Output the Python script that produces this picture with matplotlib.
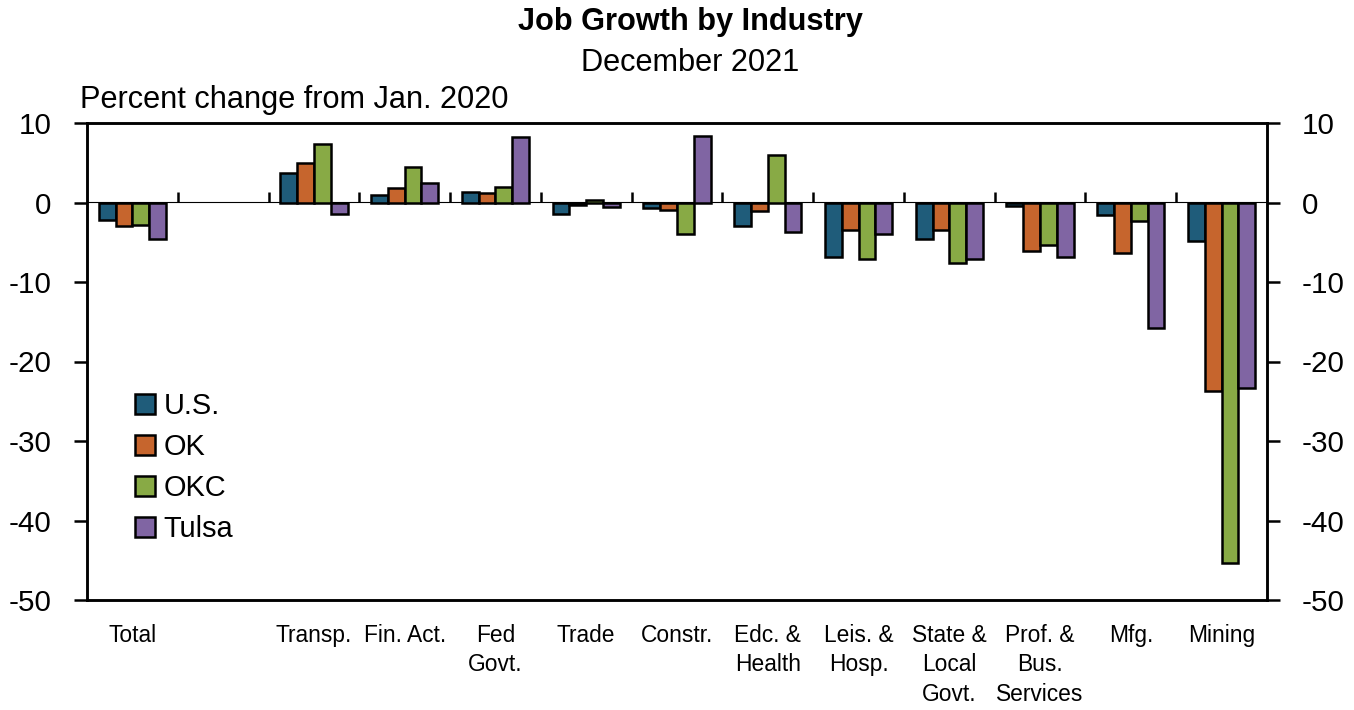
import numpy as np
import matplotlib
matplotlib.use("Agg")
import matplotlib.pyplot as plt
from matplotlib import font_manager

# Data (percent change from Jan. 2020, December 2021)
categories = ["Total", "", "Transp.", "Fin. Act.", "Fed\nGovt.", "Trade", "Constr.",
              "Edc. &\nHealth", "Leis. &\nHosp.", "State &\nLocal\nGovt.",
              "Prof. &\nBus.\nServices", "Mfg.", "Mining"]
series_names = ["U.S.", "OK", "OKC", "Tulsa"]
us = [-2.2, np.nan, 3.7, 0.9, 1.3, -1.4, -0.75, -2.9, -6.9, -4.6, -0.4, -1.6, -4.8]
ok = [-3.0, np.nan, 5.0, 1.8, 1.2, -0.3, -1.0, -1.1, -3.4, -3.4, -6.1, -6.4, -23.7]
okc = [-2.8, np.nan, 7.4, 4.5, 1.9, 0.3, -4.0, 6.0, -7.1, -7.6, -5.4, -2.3, -45.3]
tulsa = [-4.6, np.nan, -1.4, 2.4, 8.2, -0.6, 8.4, -3.7, -3.9, -7.1, -6.9, -15.8, -23.3]
colors = ["#1F5C7A", "#C6652D", "#88AA45", "#8065A3"]
y_ticks = [-50, -40, -30, -20, -10, 0, 10]

# Narrow font if we have it, otherwise regular sans scaled down
try:
    font_manager.findfont("Liberation Sans Narrow", fallback_to_default=False)
    FAMILY, SCALE = "Liberation Sans Narrow", 1.0
except ValueError:
    FAMILY, SCALE = "Liberation Sans", 0.82
plt.rcParams["font.family"] = [FAMILY, "DejaVu Sans"]
plt.rcParams["axes.unicode_minus"] = False

fig = plt.figure(figsize=(13.54, 7.1), dpi=100)
ax = fig.add_axes([87 / 1354, 110 / 710, 1180 / 1354, 477 / 710])

x = np.arange(len(categories))
w = 0.185
for k, (vals, name) in enumerate(zip([us, ok, okc, tulsa], series_names)):
    ax.bar(x + (k - 1.5) * w, vals, w, color=colors[k], edgecolor="black",
           linewidth=1.8, label=name, zorder=3)

ymin, ymax = -50, 10
ax.set_xlim(-0.5, len(categories) - 0.5)
ax.set_ylim(ymin, ymax)
ax.set_yticks(y_ticks)
ax.set_xticks(x)
ax.set_xticklabels(categories, fontsize=20 * SCALE, linespacing=1.38)
ax.tick_params(axis="x", length=0, pad=17)
ax.tick_params(axis="y", direction="out", length=9.5, width=1.8, pad=16,
               labelsize=26 * SCALE)
for sp in ax.spines.values():
    sp.set_linewidth(1.8)

# right axis
ax2 = ax.twinx()
ax2.set_ylim(ymin, ymax)
ax2.set_yticks(y_ticks)
ax2.tick_params(axis="y", direction="out", length=9, width=1.8, pad=16,
                labelsize=26 * SCALE)
for sp in ax2.spines.values():
    sp.set_linewidth(1.8)

# zero line with category separators
zero_loc = (0 - ymin) / (ymax - ymin)
sec = ax.secondary_xaxis(zero_loc)
sec.set_xticks(x[:-1] + 0.5)
sec.set_xticklabels([])
sec.tick_params(direction="out", length=7, width=1.8)
sec.spines["bottom"].set_linewidth(1.8)

leg = ax.legend(loc="center left", bbox_to_anchor=(0.031, 0.277), frameon=False,
                fontsize=25.5 * SCALE, handlelength=0.68, handleheight=0.68,
                handletextpad=0.3, labelspacing=0.45, borderaxespad=0)
for p in leg.get_patches():
    p.set_linewidth(1.8)

fig.text(690 / 1354, 1 - 22 / 710, "Job Growth by Industry", ha="center", va="center",
         fontsize=27 * SCALE, fontweight="bold")
fig.text(690 / 1354, 1 - 63 / 710, "December 2021", ha="center", va="center",
         fontsize=27 * SCALE)
fig.text(80 / 1354, 1 - 100 / 710, "Percent change from Jan. 2020", ha="left",
         va="center", fontsize=27 * SCALE)

fig.savefig("out.png", dpi=100)
